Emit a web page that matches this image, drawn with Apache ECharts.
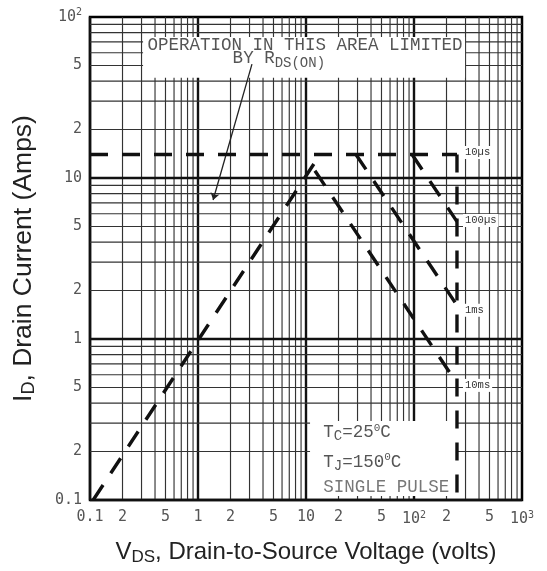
<!DOCTYPE html>
<html><head><meta charset="utf-8">
<script src="https://cdn.jsdelivr.net/npm/echarts@6/dist/echarts.min.js"></script>
<style>html,body{margin:0;padding:0;background:#fff}#c{width:547px;height:571px}</style>
</head><body><div id="c"></div>
<script>
// ---- tick labels ----
const xTickValues = [0.1, 0.2, 0.5, 1, 2, 5, 10, 20, 50, 100, 200, 500, 1000];
const xTickTexts  = ['0.1', '2', '5', '1', '2', '5', '10', '2', '5', '10{sup|2}', '2', '5', '10{sup|3}'];
const yTickValues = [0.1, 0.2, 0.5, 1, 2, 5, 10, 20, 50, 100];
const yTickTexts  = ['0.1', '2', '5', '1', '2', '5', '10', '2', '5', '10{sup|2}'];

// ---- log grid ----
const gridMultipliers = [1, 2, 3, 4, 5, 6, 7, 8, 9];
const xDecades = [0.1, 1, 10, 100];
const yDecades = [0.1, 1, 10];

// ---- SOA boundary curves [V_DS, I_D] ----
const rdsOnLimit = [[0.107, 0.1], [13.5, 14]];
const line10us   = [[0.1, 14], [250, 14]];
const line100us  = [[96, 14], [250, 5.36]];
const line1ms    = [[29, 14], [250, 1.62]];
const line10ms   = [[12.1, 11.1], [250, 0.53]];
const vdssLimit  = [[250, 14], [250, 0.1]];
const curveNames = ['10µs', '100µs', '1ms', '10ms'];

function lookup(vals, texts, v) {
  for (let i = 0; i < vals.length; i++) if (Math.abs(vals[i] - v) / vals[i] < 1e-6) return texts[i];
  return '';
}

// grid line values: [x, y, isMajor]
const xGrid = [], yGrid = [];
xDecades.forEach(d => gridMultipliers.forEach(m => xGrid.push([+(d * m).toPrecision(6), 1, m === 1 ? 1 : 0])));
yDecades.forEach(d => gridMultipliers.forEach(m => yGrid.push([1, +(d * m).toPrecision(6), m === 1 ? 1 : 0])));

const majorStyle = {stroke: '#111', lineWidth: 2.4};
const minorStyle = {stroke: '#333', lineWidth: 1.15};

function gridRender(vertical) {
  return function (params, api) {
    const cs = params.coordSys;
    const p = api.coord([api.value(0), api.value(1)]);
    const style = api.value(2) ? majorStyle : minorStyle;
    const shape = vertical
      ? {x1: p[0], y1: cs.y, x2: p[0], y2: cs.y + cs.height}
      : {x1: cs.x, y1: p[1], x2: cs.x + cs.width, y2: p[1]};
    return {type: 'line', shape: shape, style: style, silent: true};
  };
}

const mono = 'Liberation Mono';
const dash = {color: '#111', width: 3.4, type: [18, 14]};
const tickFont = {fontFamily: 'DejaVu Sans Mono', fontSize: 15, color: '#555',
  rich: {sup: {fontFamily: 'DejaVu Sans Mono', fontSize: 10, color: '#555', verticalAlign: 'top', padding: [0, 0, 9, 0]}}};

function curve(data, label, off) {
  return {
    type: 'line', data: data, symbol: 'none', z: 5, silent: true,
    lineStyle: dash,
    endLabel: label ? {show: true, formatter: label, fontFamily: mono, fontSize: 10.5, color: '#333',
      backgroundColor: '#fff', padding: [1, 2], distance: 6, offset: off || [0, 0]} : {show: false}
  };
}

const chart = echarts.init(document.getElementById('c'), null, {renderer: 'canvas'});
chart.setOption({
  animation: false,
  backgroundColor: '#fff',
  grid: {left: 90, right: 25, top: 17, bottom: 71, show: true, borderColor: '#000', borderWidth: 2.5, backgroundColor: '#fff'},
  xAxis: {
    type: 'log', logBase: 10, min: 0.1, max: 1000,
    axisLine: {show: false}, axisTick: {show: false}, splitLine: {show: false}, minorSplitLine: {show: false},
    axisLabel: Object.assign({customValues: xTickValues, margin: 10, showMinLabel: true, showMaxLabel: true,
      formatter: v => lookup(xTickValues, xTickTexts, v)}, tickFont),
    name: 'V{sub|DS}, Drain-to-Source Voltage (volts)', nameLocation: 'middle', nameGap: 39,
    nameTextStyle: {fontFamily: 'Liberation Sans', fontSize: 24, color: '#222',
      rich: {sub: {fontFamily: 'Liberation Sans', fontSize: 17, color: '#222', padding: [10, 0, 0, 0]}}}
  },
  yAxis: {
    type: 'log', logBase: 10, min: 0.1, max: 100,
    axisLine: {show: false}, axisTick: {show: false}, splitLine: {show: false}, minorSplitLine: {show: false},
    axisLabel: Object.assign({customValues: yTickValues, margin: 8, showMinLabel: true, showMaxLabel: true,
      formatter: v => lookup(yTickValues, yTickTexts, v)}, tickFont),
    name: 'I{sub|D}, Drain Current (Amps)', nameLocation: 'middle', nameGap: 52,
    nameTextStyle: {fontFamily: 'Liberation Sans', fontSize: 26.5, color: '#222',
      rich: {sub: {fontFamily: 'Liberation Sans', fontSize: 18, color: '#222', padding: [11, 0, 0, 0]}}}
  },
  series: [
    { // vertical log grid
      type: 'custom', z: 1, silent: true, clip: false, data: xGrid,
      encode: {x: 0, y: 1}, renderItem: gridRender(true)
    },
    { // horizontal log grid
      type: 'custom', z: 1, silent: true, clip: false, data: yGrid,
      encode: {x: 0, y: 1}, renderItem: gridRender(false)
    },
    { // white annotation boxes
      type: 'custom', z: 3, silent: true,
      data: [[0.31, 42, 297, 75], [10.9, 0.106, 250, 0.31]],
      encode: {x: [0, 2], y: [1, 3]},
      renderItem: function (params, api) {
        const a = api.coord([api.value(0), api.value(1)]);
        const b = api.coord([api.value(2), api.value(3)]);
        return {type: 'rect', shape: {x: Math.min(a[0], b[0]), y: Math.min(a[1], b[1]),
          width: Math.abs(b[0] - a[0]), height: Math.abs(b[1] - a[1])}, style: {fill: '#fff'}, silent: true};
      }
    },
    curve(rdsOnLimit),
    curve(line10us, curveNames[0], [0, -2]),
    curve(line100us, curveNames[1], [0, -1]),
    curve(line1ms, curveNames[2], [0, 5]),
    curve(line10ms, curveNames[3], [0, 2]),
    curve(vdssLimit),
    { // arrow from annotation
      type: 'line', data: [], z: 6, silent: true,
      markLine: {silent: true, symbol: ['none', 'arrow'], symbolSize: 7, label: {show: false},
        lineStyle: {color: '#222', width: 1.3, type: 'solid'},
        data: [[{coord: [3.16, 51]}, {coord: [1.38, 7.3]}]]}
    },
    { // annotation texts
      type: 'scatter', z: 7, silent: true, symbolSize: 1, itemStyle: {color: 'rgba(0,0,0,0)'},
      label: {show: true, position: 'right', distance: 0, fontFamily: mono, fontSize: 17.5, color: '#2a2a2a',
        rich: {
          sub: {fontFamily: mono, fontSize: 14, color: '#2a2a2a', padding: [9, 0, 0, 0]},
          sup: {fontFamily: mono, fontSize: 11, color: '#2a2a2a', padding: [0, 0, 9, 0]}
        }},
      data: [
        {value: [0.337, 67], label: {formatter: 'OPERATION IN THIS AREA LIMITED'}},
        {value: [2.07, 55], label: {formatter: 'BY R{sub|DS(ON)}'}},
        {value: [14.3, 0.264], label: {formatter: 'T{sub|C}=25{sup|0}C'}},
        {value: [14.3, 0.172], label: {formatter: 'T{sub|J}=150{sup|0}C'}},
        {value: [14.3, 0.12], label: {formatter: 'SINGLE PULSE', color: '#555'}}
      ]
    }
  ]
});
</script></body></html>
